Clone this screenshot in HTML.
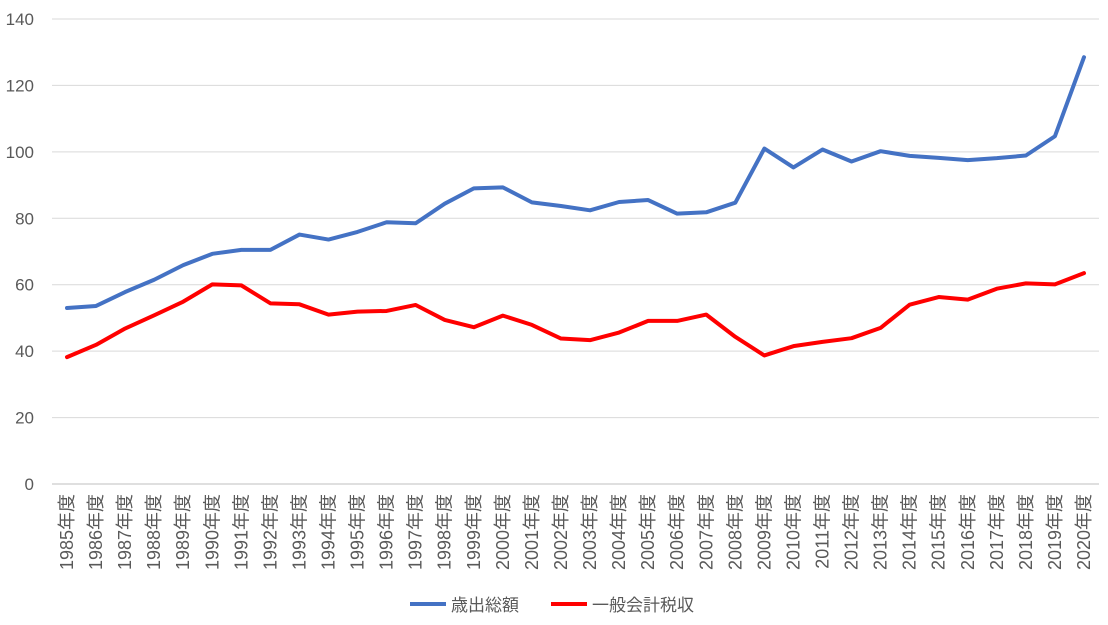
<!DOCTYPE html>
<html><head><meta charset="utf-8"><style>
body{margin:0;background:#fff;}
svg text{font-family:"Liberation Sans","Noto Sans CJK JP",sans-serif;fill:#595959;}
</style></head><body>
<svg id="chart" width="1108" height="620">
<g id="grid"></g><g id="ylabels"></g><g id="xlabels"></g><g id="series"></g>
<g>
<line x1="410" y1="604" x2="446" y2="604" stroke="#4472C4" stroke-width="4"/>
<text x="451" y="611" font-size="17">歳出総額</text>
<line x1="551" y1="604" x2="587" y2="604" stroke="#FF0000" stroke-width="4"/>
<text x="592" y="611" font-size="17">一般会計税収</text>
</g>
</svg>
<script>
const years=[];for(let y=1985;y<=2020;y++)years.push(y);
const expenditure=[53,53.6,57.8,61.5,65.9,69.3,70.5,70.5,75.1,73.6,75.9,78.8,78.5,84.4,89,89.3,84.8,83.7,82.4,84.9,85.5,81.4,81.8,84.7,101,95.3,100.7,97.1,100.2,98.8,98.2,97.5,98.1,98.9,104.7,128.5];
const taxRevenue=[38.2,41.9,46.8,50.8,54.9,60.1,59.8,54.4,54.1,51,51.9,52.1,53.9,49.4,47.2,50.7,47.9,43.8,43.3,45.6,49.1,49.1,51,44.3,38.7,41.5,42.8,43.9,47,54,56.3,55.5,58.8,60.4,60.1,63.5];
const yTicks=[0,20,40,60,80,100,120,140];
const NS="http://www.w3.org/2000/svg";
const x0=67,x1=1084,yb=484,yt=19;
const xs=i=>x0+(x1-x0)*i/(years.length-1);
const ys=v=>yb-(yb-yt)*v/140;
const grid=document.getElementById('grid'),yl=document.getElementById('ylabels'),xl=document.getElementById('xlabels'),se=document.getElementById('series');
yTicks.forEach(t=>{
const l=document.createElementNS(NS,'line');


l.setAttribute('x1',52);l.setAttribute('x2',1099);l.setAttribute('y1',ys(t));l.setAttribute('y2',ys(t));
l.setAttribute('stroke',t===0?'#bfbfbf':'#d9d9d9');l.setAttribute('stroke-width',1);
grid.appendChild(l);
const tx=document.createElementNS(NS,'text');


tx.setAttribute('x',34);tx.setAttribute('y',ys(t)+6);tx.setAttribute('text-anchor','end');tx.setAttribute('font-size','17');
tx.textContent=t;yl.appendChild(tx);
});
years.forEach((y,i)=>{
const tx=document.createElementNS(NS,'text');


const x=xs(i)+6,yy=494;
tx.setAttribute('x',x);tx.setAttribute('y',yy);tx.setAttribute('text-anchor','end');tx.setAttribute('font-size','18');
tx.setAttribute('transform','rotate(-90 '+x+' '+yy+')');
tx.textContent=y+'年度';xl.appendChild(tx);
});
function line(data,color,name){
const p=document.createElementNS(NS,'polyline');


p.setAttribute('points',data.map((v,i)=>xs(i)+','+ys(v)).join(' '));
p.setAttribute('fill','none');p.setAttribute('stroke',color);p.setAttribute('stroke-width',4);p.setAttribute('stroke-linejoin','round');p.setAttribute('stroke-linecap','round');
se.appendChild(p);
}
line(expenditure,'#4472C4','series-expenditure');
line(taxRevenue,'#FF0000','series-tax-revenue');
</script>
</body></html>
